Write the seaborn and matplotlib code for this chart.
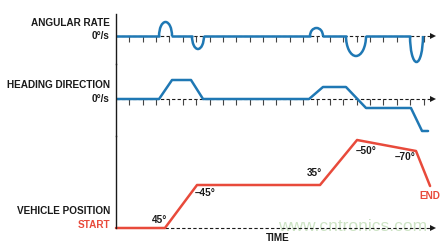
import numpy as np
import pandas as pd
import matplotlib
matplotlib.use("Agg")
import matplotlib.pyplot as plt
from matplotlib.patches import Arc
import seaborn as sns

# ---------------- data (time in tick units) ----------------
tick_times = list(range(1, 24))

# angular rate bumps: start time, end time, peak (arbitrary deg/s units)
rate_start = [3.22, 5.68, 14.51, 17.20, 21.99]
rate_end = [4.19, 6.58, 15.48, 18.70, 22.96]
rate_peak = [14, -13, 8, -20, -26]

# heading direction polyline
heading_t = [0, 3.22, 4.19, 5.61, 6.51, 14.44, 15.48, 17.20, 18.70, 22.06, 22.89, 23.34]
heading_v = [0, 0, 19, 19, 0, 0, 12, 12, -9, -9, -32, -32]

# vehicle position polyline
pos_t = [0, 3.66, 6.06, 15.26, 18.03, 22.44, 23.49]
pos_v = [0, 0, 43, 43, 88, 77, 42]

# turn-angle labels
angle_labels = ["45°", "–45°", "35°", "–50°", "–70°"]
angle_t = [3.22, 6.66, 14.81, 18.70, 21.62]
angle_v = [8, 35, 55, 77, 71]

axis_end = 23.93
BLUE = "#1f78b4"
RED = "#e84a3b"
INK = "#1a1a1a"

sns.set_theme(style="white")
plt.rcParams["font.family"] = ["Liberation Sans", "DejaVu Sans"]
plt.rcParams["font.weight"] = "bold"
FS = 7.2

W, H = 446, 245
fig = plt.figure(figsize=(W / 100, H / 100), dpi=100)
fig.patch.set_facecolor("white")

left = 116 / W
width = 330 / W
xlim = (0, (446 - 116) / 13.37)


def make_ax(top_px, bot_px, ylim):
    ax = fig.add_axes([left, 1 - bot_px / H, width, (bot_px - top_px) / H])
    ax.set_xlim(*xlim)
    ax.set_ylim(*ylim)
    ax.patch.set_alpha(0)
    for s in ["top", "right", "bottom"]:
        ax.spines[s].set_visible(False)
    ax.spines["left"].set_color(INK)
    ax.spines["left"].set_linewidth(1.0)
    ax.set_xticks([])
    ax.set_yticks([])
    return ax


ax1 = make_ax(14, 64, (-28, 22))
ax2 = make_ax(64, 136, (-37, 35))
ax3 = make_ax(136, 228, (0, 92))


def time_axis(ax, t0, with_ticks):
    ax.plot([t0, axis_end - 0.25], [0, 0], color=INK, lw=0.8,
            ls=(0, (3, 2)), clip_on=False, zorder=1)
    ax.plot([axis_end - 0.22], [0], marker=">", ms=5, color=INK,
            clip_on=False, zorder=3, mew=0)
    if with_ticks:
        ax.vlines(tick_times, -6, 0, color="#444444", lw=0.8, zorder=1)


# ---- angular rate ----
time_axis(ax1, 0, True)
seg_rows = []
edges = [0] + [v for pair in zip(rate_start, rate_end) for v in pair]
for i in range(0, len(edges) - 1, 2):
    seg_rows.append({"seg": i, "t": edges[i], "v": 0})
    seg_rows.append({"seg": i, "t": edges[i + 1], "v": 0})
seg_df = pd.DataFrame(seg_rows)
sns.lineplot(data=seg_df, x="t", y="v", units="seg", estimator=None,
             color=BLUE, lw=1.8, ax=ax1, legend=False)
for s, e, p in zip(rate_start, rate_end, rate_peak):
    th1, th2 = (0, 180) if p > 0 else (180, 360)
    ax1.add_patch(Arc(((s + e) / 2, 0), e - s, 2 * abs(p), theta1=th1,
                      theta2=th2, color=BLUE, lw=1.8, clip_on=False, zorder=2))

# ---- heading direction ----
time_axis(ax2, 0, True)
sns.lineplot(x=heading_t, y=heading_v, sort=False, estimator=None,
             color=BLUE, lw=1.8, ax=ax2, zorder=2)

# ---- vehicle position ----
time_axis(ax3, pos_t[1], False)
sns.lineplot(x=pos_t, y=pos_v, sort=False, estimator=None,
             color=RED, lw=1.8, ax=ax3, zorder=2)
for l in ax3.lines:
    l.set_clip_on(False)
for lab, t, v in zip(angle_labels, angle_t, angle_v):
    ax3.text(t, v, lab, ha="center", va="center", fontsize=FS,
             fontweight="bold", color=INK)
ax3.text(pos_t[-1], 32, "END", ha="center", va="center", fontsize=FS,
         fontweight="bold", color=RED)

# watermark
ax3.text(17.7, 1.8, "www.cntronics.com", ha="center", va="center",
         fontsize=12.5, color="#9cc98c", alpha=0.5, zorder=0,
         fontweight="normal", clip_on=False)
ax3.text(12.12, -9.5, "TIME", ha="center", va="center", fontsize=FS,
         fontweight="bold", color=INK, clip_on=False)

# left labels
lx = -0.45
ax1.text(lx, 13, "ANGULAR RATE", ha="right", va="center", fontsize=FS,
         fontweight="bold", color=INK, clip_on=False)
ax1.text(lx, 0, "0°/s", ha="right", va="center", fontsize=FS,
         fontweight="bold", color=INK, clip_on=False)
ax2.text(lx, 13.5, "HEADING DIRECTION", ha="right", va="center", fontsize=FS,
         fontweight="bold", color=INK, clip_on=False)
ax2.text(lx, 0, "0°/s", ha="right", va="center", fontsize=FS,
         fontweight="bold", color=INK, clip_on=False)
ax3.text(lx, 17, "VEHICLE POSITION", ha="right", va="center", fontsize=FS,
         fontweight="bold", color=INK, clip_on=False)
ax3.text(lx, 3, "START", ha="right", va="center", fontsize=FS,
         fontweight="bold", color=RED, clip_on=False)

for ax in (ax1, ax2, ax3):
    ax.set_xlabel("")
    ax.set_ylabel("")

fig.savefig("out.png", dpi=100, facecolor="white")
